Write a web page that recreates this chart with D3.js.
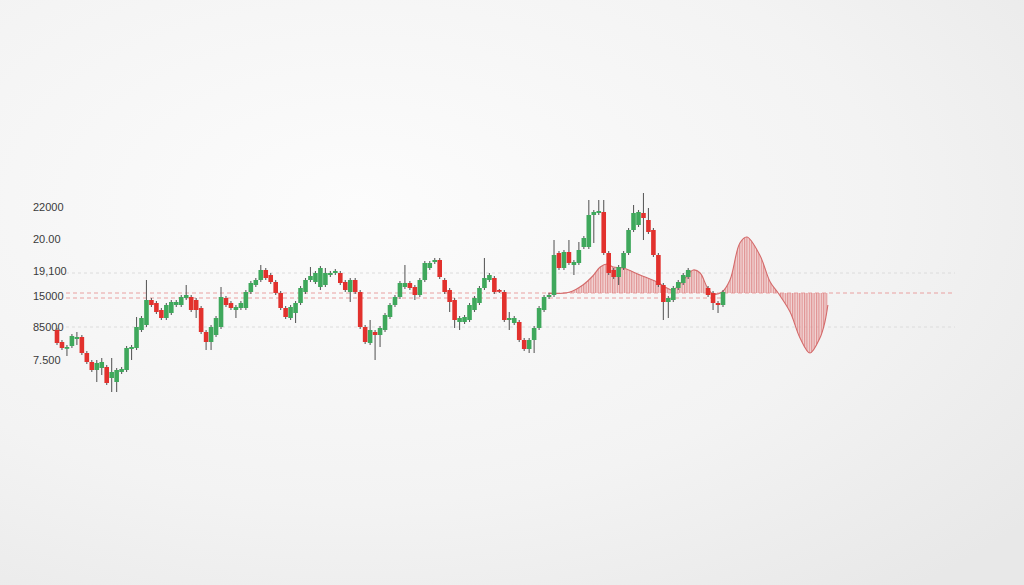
<!DOCTYPE html>
<html>
<head>
<meta charset="utf-8">
<script src="https://cdn.jsdelivr.net/npm/d3@7"></script>
<style>
html,body{margin:0;padding:0;background:#f3f3f3;}
svg{display:block;}
</style>
</head>
<body>
<svg id="chart" width="1024" height="585"></svg>
<script>
// ---- data ----
const tickValues = [25300, 22100, 18900, 16400, 13300, 10000];
const tickLabels = ["22000", "20.00", "19,100", "15000", "85000", "7.500"];
const greyLevels = [18700, 13300];
const redLevels = [16700, 16200];
const baseline = 16700;

// [open, high, low, close]
const candlesA = [
 [13000,13200,11500,11700],[11800,12000,11000,11200],[11200,11500,10400,11300],[11400,12600,11200,12400],
 [12100,12800,11500,12300],[12300,12500,10500,10700],[10700,10900,9600,9800],[9800,10000,8800,9000],
 [9000,10000,7800,9700],[9200,10200,8500,9800],[9300,9500,7500,7700],[8200,10200,6800,8800],
 [7800,9200,6800,9000],[8800,9300,8600,9100],[9000,11400,8800,11200],[11100,11500,10000,11300],
 [11200,14300,11000,13300],[13000,14400,12800,14200],[13500,18000,13300,16000],[16000,16200,15300,15500],
 [15700,15900,14600,14800],[15000,15200,14000,14200],[14200,15700,14000,15500],[14700,16000,14500,15800],
 [15500,16000,15300,15800],[15500,16500,15300,16300],[16200,17500,16000,16500],[16300,16500,14800,15000],
 [16000,16200,14200,15000],[15200,15400,12600,12800],[12800,13000,11000,11800],[11800,13500,11000,13300],
 [12500,14400,12300,14200],[13300,17300,13100,16300],[16200,16400,15300,15500],[15700,15900,15000,15200],
 [15000,15500,14200,15300],[15200,15900,15000,15700],[15200,17000,15000,16800],[16800,17900,16600,17700],
 [17500,18200,17300,18000],[18000,19500,17800,19000],[19000,19200,18000,18200],[18500,18700,17600,17800],
 [17800,18000,16500,16700],[16700,16900,15000,15200],[15200,15400,14100,14300],[14200,15500,14000,15300],
 [14700,15900,13700,15700],[15700,17400,15500,17200],[16800,18200,16600,18000],[18000,19300,17800,18400],
 [17800,18900,17600,18700],[17300,19400,17000,19200],[17500,19200,17300,18700],[18500,18900,18300,18700],
 [18700,19100,18500,18900],[18700,18900,17500,17700],[17800,18000,16800,17000],[16800,18200,15800,18000],
 [18000,18200,16600,16800],[16800,17000,13100,13300],[13300,13500,11600,11800],[11700,14000,11500,13000],
 [12800,13000,10000,12500],[12500,13400,11300,13200],[13000,14700,12800,14500],[14300,15700,14100,15500],
 [15500,16500,15300,16300],[16300,17900,16100,17700],[17300,19500,17100,17700],[17700,17900,17000,17200],
 [17300,17500,16000,16500],[16500,18200,16300,18000],[18000,19900,17800,19700],[19200,19900,19000,19700],
 [19800,20200,19600,20000],[20000,20200,18100,18300],[18000,18200,16600,16800],[17000,17200,14800,15800],
 [16000,16200,13200,14000],[13800,14400,13000,14200],[13800,14500,13600,14300],[14000,15700,13800,15500],
 [15000,16400,14800,16200],[15700,17400,15500,17200],[17200,20200,17000,18200],[18000,18700,17800,18500],
 [18200,18400,16600,16800],[17000,17100,16700,16900],[16800,17000,13800,14000],[14000,14800,13000,14200],
 [13700,14400,13500,14200],[13800,14000,11800,12000],[12000,12200,10900,11100],[11100,12200,10700,12000],
 [12000,13400,10700,13200],[13200,15400,13000,15200],[15000,16500,14800,16300],[16300,16700,16100,16500],
 [16500,22000,16300,20500],[20700,20900,19000,19200],[19200,21000,19000,20800],[20800,22000,19500,19700],
 [19500,20000,18500,19800],[19700,21800,19500,21000],[21300,22400,21100,22200],[21300,26000,21100,24500],
 [24500,25000,21700,24800],[24700,26000,24500,24900],[24800,26000,20500,20700],[20700,20900,18500,18700],
 [19000,19200,18100,18300],[18300,19500,17500,19300],[19200,20900,19000,20700],[20700,23200,20500,23000],
 [23000,25500,22800,24700],[23500,25000,23300,24800],[24700,26700,22000,24200],[24000,25200,22600,22800],
 [23000,23200,20300,20500],[20500,20700,17300,17500],[17500,17700,14000,15800],[15800,16400,14200,16200],
 [16000,17400,15800,17200],[17200,18000,17000,17800],[17700,18700,17500,18500],[18300,19200,18100,19000]
];
const gapSessions = 3;
const candlesB = [
 [17200,17400,16300,16500],[16700,16900,15000,15700],[15700,15900,14700,15500],[15500,17000,15300,16800]
];

// oscillator-like overlay: [session, value]
const overlay = [
 [98.8,16700],[99.8,16650],[103.2,16800],[105.8,17500],[107.8,18400],[109.3,19300],[110.7,19600],
 [111.9,19300],[113.9,19200],[117.3,18500],[120.7,17800],[122.7,17200],[123.9,17000],[125.7,17800],
 [128.0,19000],[129.4,18700],[130.8,17300],[132.0,16600],[133.8,16800],[135.4,18000],[137.4,21700],
 [138.8,22300],[141.4,20500],[143.5,17800],[145.1,16700],[147.5,14800],[149.5,12200],[151.5,10700],
 [153.5,12200],[154.5,13800],[155.1,15500]
];

// ---- build ----
const svg = d3.select("#chart");
const W = 1024, H = 585;
const defs = svg.append("defs");
const rg = defs.append("radialGradient").attr("id","bg").attr("cx","35%").attr("cy","35%").attr("r","85%");
rg.append("stop").attr("offset","0%").attr("stop-color","#fcfcfc");
rg.append("stop").attr("offset","60%").attr("stop-color","#f3f3f3");
rg.append("stop").attr("offset","100%").attr("stop-color","#e8e8e8");
svg.append("rect").attr("width",W).attr("height",H).attr("fill","url(#bg)");

const pat = defs.append("pattern").attr("id","hatch").attr("patternUnits","userSpaceOnUse")
  .attr("width",2.4).attr("height",10);
pat.append("rect").attr("width",2.4).attr("height",10).attr("fill","rgba(238,175,175,0.45)");
pat.append("line").attr("x1",0.6).attr("x2",0.6).attr("y1",0).attr("y2",10)
  .attr("stroke","#dc8080").attr("stroke-width",0.9);

const x = d3.scaleLinear().domain([0, 134]).range([57, 723]);
const y = d3.scaleLinear().domain([10000, 25300]).range([360, 207]);

// axis labels
const axis = d3.axisRight(y).tickValues(tickValues).tickSize(0).tickPadding(0)
  .tickFormat((d,i) => tickLabels[i]);
const ag = svg.append("g").attr("transform","translate(33,0)").call(axis);
ag.select(".domain").remove();
ag.selectAll("text").attr("font-family","Liberation Sans, Arial, sans-serif")
  .attr("font-size",11).attr("fill","#3a3a3a").attr("text-anchor","start");

// grid lines
svg.append("g").selectAll("line").data(greyLevels).join("line")
  .attr("x1",66).attr("x2",955).attr("y1",d=>y(d)).attr("y2",d=>y(d))
  .attr("stroke","#dcdcdc").attr("stroke-width",1).attr("stroke-dasharray","3,3");
svg.append("g").selectAll("line").data(redLevels).join("line")
  .attr("x1",66).attr("x2",(d,i)=> i===0 ? 955 : 725).attr("y1",d=>y(d)).attr("y2",d=>y(d))
  .attr("stroke","#e9a0a0").attr("stroke-width",1).attr("stroke-dasharray","4,3");

// overlay area
const area = d3.area().x(d=>x(d[0])).y0(y(baseline)).y1(d=>y(d[1])).curve(d3.curveCatmullRom);
const line = d3.line().x(d=>x(d[0])).y(d=>y(d[1])).curve(d3.curveCatmullRom);
svg.append("path").datum(overlay).attr("d",area).attr("fill","url(#hatch)");
svg.append("path").datum(overlay).attr("d",line).attr("fill","none")
  .attr("stroke","#d46a6a").attr("stroke-width",1.1);

// candles
const all = candlesA.map((c,i)=>({i, o:c[0], h:c[1], l:c[2], c:c[3]}))
  .concat(candlesB.map((c,j)=>({i: candlesA.length - 1 + gapSessions + 1 + j, o:c[0], h:c[1], l:c[2], c:c[3]})));
const green = "#3fa85c", red = "#e2312d";
const cg = svg.append("g");
cg.selectAll("line").data(all).join("line")
  .attr("x1",d=>x(d.i)).attr("x2",d=>x(d.i))
  .attr("y1",d=>y(d.h)).attr("y2",d=>y(d.l))
  .attr("stroke","#5e5e5e").attr("stroke-width",1.1);
const bw = 4.6;
cg.selectAll("rect").data(all).join("rect")
  .attr("x",d=>x(d.i)-bw/2).attr("width",bw)
  .attr("y",d=>y(Math.max(d.o,d.c)))
  .attr("height",d=>Math.max(1.8, Math.abs(y(d.o)-y(d.c))))
  .attr("fill",d=> d.c>=d.o ? green : red);
</script>
</body>
</html>
